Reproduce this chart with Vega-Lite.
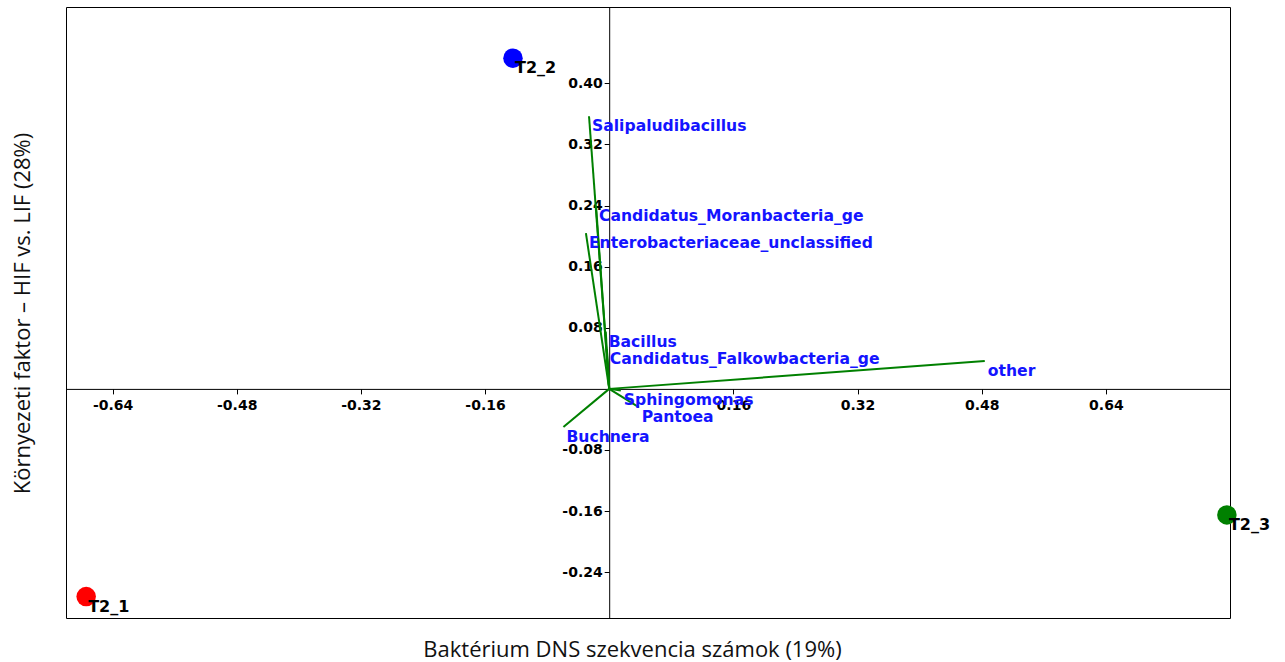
{
  "$schema": "https://vega.github.io/schema/vega-lite/v6.json",
  "width": 1164,
  "height": 611,
  "autosize": {"type": "none"},
  "padding": {"left": 66, "top": 7, "right": 55, "bottom": 44},
  "background": "white",
  "config": {"view": {"stroke": "black", "strokeWidth": 1}},
  "datasets": {
    "samples": [
      {"label": "T2_1", "x": -0.674, "y": -0.272},
      {"label": "T2_2", "x": -0.124, "y": 0.433},
      {"label": "T2_3", "x": 0.796, "y": -0.165}
    ],
    "vectors": [
      {"label": "Salipaludibacillus", "x": -0.026, "y": 0.357},
      {"label": "Candidatus_Moranbacteria_ge", "x": -0.017, "y": 0.240},
      {"label": "Enterobacteriaceae_unclassified", "x": -0.030, "y": 0.204},
      {"label": "Bacillus", "x": -0.0045, "y": 0.075},
      {"label": "Candidatus_Falkowbacteria_ge", "x": -0.003, "y": 0.052},
      {"label": "other", "x": 0.484, "y": 0.0365},
      {"label": "Sphingomonas", "x": 0.015, "y": -0.002},
      {"label": "Pantoea", "x": 0.038, "y": -0.024},
      {"label": "Buchnera", "x": -0.059, "y": -0.050}
    ]
  },
  "encoding": {
    "x": {
      "field": "x",
      "type": "quantitative",
      "scale": {"domain": [-0.7, 0.8], "nice": false, "zero": false},
      "axis": {
        "title": "Baktérium DNS szekvencia számok (19%)",
        "values": [-0.64, -0.48, -0.32, -0.16, 0.16, 0.32, 0.48, 0.64],
        "labelExpr": "replace(format(datum.value, '.2f'), '−', '-')",
        "offset": -229.1,
        "grid": false,
        "domainColor": "black",
        "tickColor": "black",
        "tickSize": 5,
        "labelFont": "DejaVu Sans",
        "labelFontWeight": "bold",
        "labelFontSize": 14,
        "labelColor": "black",
        "labelPadding": 5,
        "labelFlush": false,
        "labelOverlap": false,
        "titleFont": "Open Sans",
        "titleFontSize": 22,
        "titleFontWeight": "normal",
        "titleColor": "#111111",
        "titleX": 566,
        "titleY": 261,
        "titleAlign": "center",
        "titleBaseline": "middle"
      }
    },
    "y": {
      "field": "y",
      "type": "quantitative",
      "scale": {"domain": [-0.3, 0.5], "nice": false, "zero": false},
      "axis": {
        "title": "Környezeti faktor – HIF vs. LIF (28%)",
        "values": [-0.24, -0.16, -0.08, 0.08, 0.16, 0.24, 0.32, 0.4],
        "labelExpr": "replace(format(datum.value, '.2f'), '−', '-')",
        "offset": -543.2,
        "grid": false,
        "domainColor": "black",
        "tickColor": "black",
        "tickSize": 5,
        "labelFont": "DejaVu Sans",
        "labelFontWeight": "bold",
        "labelFontSize": 14,
        "labelColor": "black",
        "labelPadding": 2,
        "labelFlush": false,
        "labelOverlap": false,
        "titleFont": "Open Sans",
        "titleFontSize": 22,
        "titleFontWeight": "normal",
        "titleColor": "#111111",
        "titleX": -587,
        "titleY": 306,
        "titleAngle": -90,
        "titleAlign": "center",
        "titleBaseline": "middle"
      }
    }
  },
  "layer": [
    {
      "data": {"name": "vectors"},
      "mark": {"type": "rule", "color": "#008000", "strokeWidth": 2},
      "encoding": {"x2": {"datum": 0}, "y2": {"datum": 0}}
    },
    {
      "data": {"name": "samples"},
      "mark": {"type": "circle", "size": 380, "opacity": 1},
      "encoding": {
        "color": {
          "field": "label",
          "type": "nominal",
          "scale": {"domain": ["T2_1", "T2_2", "T2_3"], "range": ["#ff0000", "#0000ff", "#008000"]},
          "legend": null
        }
      }
    },
    {
      "data": {"name": "samples"},
      "mark": {"type": "text", "align": "left", "baseline": "middle", "dx": 2, "dy": 10, "font": "DejaVu Sans", "fontWeight": "bold", "fontSize": 16, "fill": "black"},
      "encoding": {"text": {"field": "label"}}
    },
    {
      "data": {"name": "vectors"},
      "mark": {"type": "text", "align": "left", "baseline": "middle", "dx": 3, "dy": 10, "font": "DejaVu Sans", "fontWeight": "bold", "fontSize": 15.6, "fill": "#1414ff"},
      "encoding": {"text": {"field": "label"}}
    }
  ]
}
